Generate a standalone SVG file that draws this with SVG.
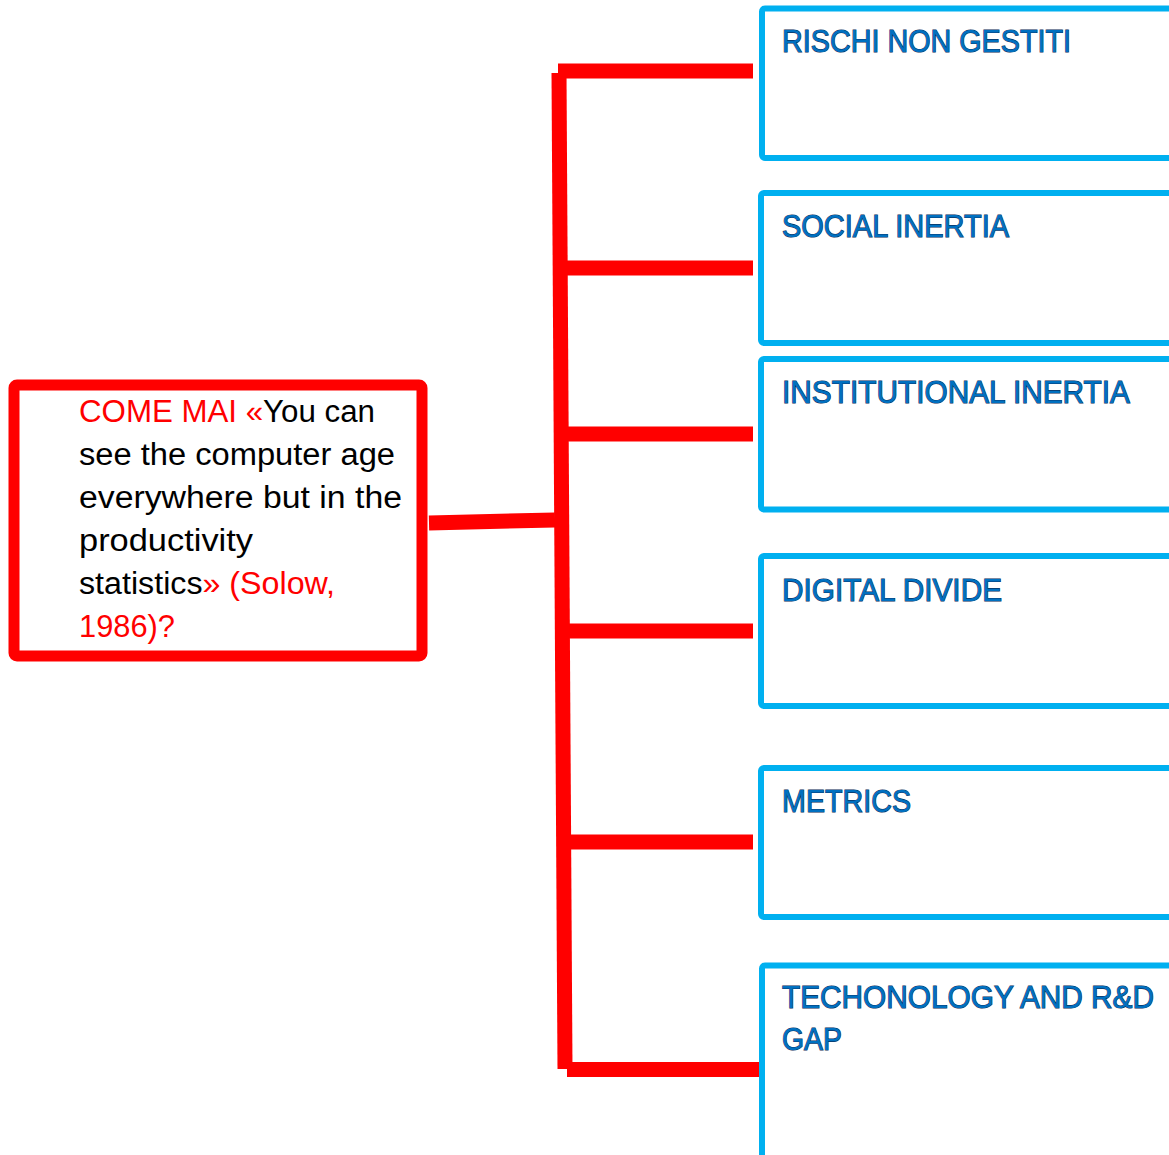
<svg xmlns="http://www.w3.org/2000/svg" width="1169" height="1155" viewBox="0 0 1169 1155">
<style>
.conn{stroke:#FF0000;stroke-width:15;fill:none;stroke-linecap:butt}
.box{fill:#FFFFFF;stroke:#00B0F0;stroke-width:6}
.lbl{font-family:"Liberation Sans",Arial,sans-serif;font-size:32px;fill:#0070C0;stroke:#0B2E59;stroke-width:1.1;paint-order:stroke}
.main{fill:#FFFFFF;stroke:#FF0000;stroke-width:11}
.mt{font-family:"Liberation Sans",Arial,sans-serif;font-size:31px;fill:#000000}
.red{fill:#FF0000}
</style>
<rect width="1169" height="1155" fill="#FFFFFF"/>
<g id="connectors">
<line class="conn" x1="559" y1="73" x2="565" y2="1069"/>
<line class="conn" x1="558" y1="71" x2="753" y2="71"/>
<line class="conn" x1="560" y1="268" x2="753" y2="268"/>
<line class="conn" x1="561" y1="434" x2="753" y2="434"/>
<line class="conn" x1="562" y1="631" x2="753" y2="631"/>
<line class="conn" x1="564" y1="842" x2="753" y2="842"/>
<line class="conn" x1="567" y1="1069.5" x2="761" y2="1069.5"/>
<line class="conn" x1="429" y1="523" x2="555" y2="520"/>
</g>
<g id="node-main">
<rect class="main" x="14" y="385" width="408" height="271" rx="3"/>
<text class="mt" x="79" y="422" textLength="296" lengthAdjust="spacingAndGlyphs"><tspan class="red">COME MAI «</tspan>You can</text>
<text class="mt" x="79" y="465" textLength="316" lengthAdjust="spacingAndGlyphs">see the computer age</text>
<text class="mt" x="79" y="508" textLength="323" lengthAdjust="spacingAndGlyphs">everywhere but in the</text>
<text class="mt" x="79" y="551" textLength="174" lengthAdjust="spacingAndGlyphs">productivity</text>
<text class="mt" x="79" y="594" textLength="256" lengthAdjust="spacingAndGlyphs">statistics<tspan class="red">» (Solow,</tspan></text>
<text class="mt red" x="79" y="637" textLength="96" lengthAdjust="spacingAndGlyphs">1986)?</text>
</g>
<g id="node-rischi">
<rect class="box" x="762" y="8.5" width="420" height="149.5" rx="3"/>
<text class="lbl" x="782" y="52" textLength="289" lengthAdjust="spacingAndGlyphs">RISCHI NON GESTITI</text>
</g>
<g id="node-social">
<rect class="box" x="761" y="193" width="420" height="150" rx="3"/>
<text class="lbl" x="782" y="237" textLength="227" lengthAdjust="spacingAndGlyphs">SOCIAL INERTIA</text>
</g>
<g id="node-institutional">
<rect class="box" x="761" y="359" width="420" height="150.5" rx="3"/>
<text class="lbl" x="782" y="403" textLength="348" lengthAdjust="spacingAndGlyphs">INSTITUTIONAL INERTIA</text>
</g>
<g id="node-digital">
<rect class="box" x="761" y="556" width="420" height="150" rx="3"/>
<text class="lbl" x="782" y="601" textLength="220" lengthAdjust="spacingAndGlyphs">DIGITAL DIVIDE</text>
</g>
<g id="node-metrics">
<rect class="box" x="761" y="768" width="420" height="149" rx="3"/>
<text class="lbl" x="782" y="812" textLength="129" lengthAdjust="spacingAndGlyphs">METRICS</text>
</g>
<g id="node-technology">
<rect class="box" x="762" y="965.5" width="420" height="220" rx="3"/>
<text class="lbl" x="782" y="1008" textLength="372" lengthAdjust="spacingAndGlyphs">TECHONOLOGY AND R&amp;D</text>
<text class="lbl" x="782" y="1050" textLength="60" lengthAdjust="spacingAndGlyphs">GAP</text>
</g>
</svg>
